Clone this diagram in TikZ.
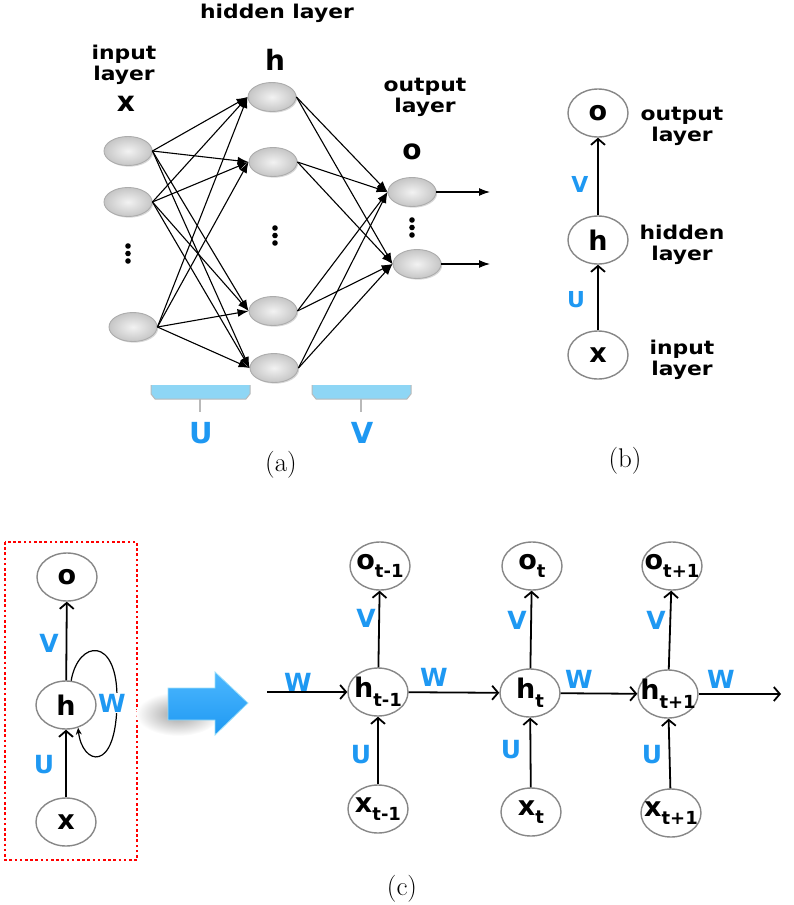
\documentclass[tikz,border=0pt]{standalone}
\usepackage{fontspec}
\usetikzlibrary{arrows.meta,shapes.geometric,shadows,calc}
\newfontfamily\djs{DejaVu Sans}[FakeStretch=1.15]
\newfontfamily\djn{DejaVu Sans}
\definecolor{myblue}{RGB}{30,152,242}
\definecolor{brk}{RGB}{142,214,245}
\definecolor{cgray}{RGB}{135,135,135}
\newcommand\subx[1]{\raisebox{-0.32em}{\fontsize{18}{18}\selectfont #1}}
\newcommand\ctext[1]{\makebox[0pt]{#1}}
\begin{document}
\begin{tikzpicture}[x=1pt,y=-1pt,
 lab/.style={font=\djs\bfseries\fontsize{19}{21}\selectfont, align=center, inner sep=0},
 big/.style={font=\djn\bfseries\fontsize{28}{28}\selectfont, inner sep=0},
 bl/.style={text=myblue, font=\djn\bfseries\fontsize{25}{25}\selectfont, inner sep=0},
 blb/.style={text=myblue, font=\djn\bfseries\fontsize{29}{29}\selectfont, inner sep=0},
 bls/.style={text=myblue, font=\djn\bfseries\fontsize{22}{22}\selectfont, inner sep=0},
 circ/.style={ellipse, draw=cgray, line width=1.4pt, fill=white, minimum width=60pt, minimum height=48pt, inner sep=0, font=\djn\bfseries\fontsize{27}{27}\selectfont},
 neu/.style={ellipse, minimum width=48pt, minimum height=29pt, inner sep=0, draw=gray!65, line width=0.9pt, inner color=gray!10, outer color=gray!45, drop shadow={opacity=0.3, shadow xshift=1.2pt, shadow yshift=-1.2pt}},
 narr/.style={-{Latex[length=11pt,width=8pt]}, line width=1.1pt},
 arr/.style={-{Straight Barb[length=6pt,width=14pt]}, line width=1.8pt},
 captxt/.style={font=\fontsize{27}{27}\selectfont, inner sep=0},
 brack/.style={fill=brk, draw=gray!55, line width=1pt}
]
\useasboundingbox (0,0) rectangle (793,905);

% ---------- (a) ----------
\node[neu] (i1) at (128,151) {};
\node[neu] (i2) at (128,202) {};
\node[neu] (i3) at (133,327) {};
\node[neu] (h1) at (272,97) {};
\node[neu] (h2) at (273,162) {};
\node[neu] (h3) at (273,311) {};
\node[neu] (h4) at (274,368) {};
\node[neu] (o1) at (412,192) {};
\node[neu] (o2) at (417,264) {};

\foreach \i in {i1,i2,i3}
  \foreach \h in {h1,h2,h3,h4}
    \draw[narr] (\i.east) -- (\h.west);
\foreach \h in {h1,h2,h3,h4}
  \foreach \o in {o1,o2}
    \draw[narr] (\h.east) -- (\o.west);
\coordinate (e1) at (490,192);
\coordinate (e2) at (490,264);
\draw[narr] (o1.east) -- (e1);
\draw[narr] (o2.east) -- (e2);

\foreach \x/\y in {128/246, 275/228, 412/220}{
  \fill (\x,\y) circle (2.8);
  \fill (\x,\y+7.5) circle (2.8);
  \fill (\x,\y+15) circle (2.8);
}

\node[lab] (thl) at (277,13) {hidden layer};
\node[big] (th) at (275,60) {h};
\node[lab] (til) at (124,65) {input\\layer};
\node[big] (tx) at (126,104) {x};
\node[lab] (tol) at (425,97) {output\\layer};
\node[big] (to) at (412,152) {o};

\path[fill=brk] (151,385) -- (151,394) -- (155,399) -- (246,399) -- (250,394) -- (250,385) -- cycle;
\draw[gray!55, line width=1pt] (151,385) -- (151,394) -- (155,399) -- (246,399) -- (250,394) -- (250,385);
\draw[gray!55, line width=1.2pt] (200,399) -- (200,412);
\path[fill=brk] (312,385) -- (312,394) -- (316,399) -- (407,399) -- (411,394) -- (411,385) -- cycle;
\draw[gray!55, line width=1pt] (312,385) -- (312,394) -- (316,399) -- (407,399) -- (411,394) -- (411,385);
\draw[gray!55, line width=1.2pt] (361,399) -- (361,412);
\node[blb] (lu) at (201,433) {U};
\node[blb] (lv) at (362,433) {V};

\node[captxt] (ca) at (281,465) {(a)};

% ---------- (b) ----------
\node[circ] (bo) at (598,113) {o};
\node[circ] (bh) at (598,240) {h};
\node[circ] (bx) at (598,355) {x};
\draw[arr] (bx) -- (bh);
\draw[arr] (bh) -- (bo);
\node[lab] (bol) at (682,126) {output\\layer};
\node[lab] (bhl) at (682,245) {hidden\\layer};
\node[lab] (bil) at (682,360) {input\\layer};
\node[bls] (bv) at (580,184) {V};
\node[bls] (bu) at (576,300) {U};
\node[captxt] (cb) at (625,461) {(b)};

% ---------- (c) left ----------
\draw[red, line width=2.6pt, dash pattern=on 2.6pt off 2.6pt] (5,542) rectangle (137,860);
\node[circ] (lo) at (67,577) {o};
\node[circ] (lh) at (66,705) {h};
\node[circ] (lx) at (66,822) {x};
\draw[arr] (lx) -- (lh);
\draw[arr] (lh) -- (lo);
\draw[line width=1.2pt, -{Stealth[length=7pt,width=6pt]}] (lh.78) .. controls (78,640) and (118,635) .. (117,700) .. controls (117,775) and (82,765) .. (lh.-62);
\node[bl, fill=white, inner sep=1pt] (lw) at (112,703) {W};
\node[bl] (lv2) at (49,643) {V};
\node[bl] (lu2) at (44,765) {U};

% shadow + big arrow
\shade[inner color=gray!75, outer color=white] (178,714) ellipse [x radius=42, y radius=22];
\shade[top color=cyan!60!blue!70, bottom color=myblue, draw=cyan!40, line width=0.8pt]
  (168,688) -- (215,688) -- (215,672) -- (248,703) -- (215,735) -- (215,720) -- (168,720) -- cycle;

% ---------- (c) right ----------
\node[circ] (o1t) at (380,566) {\ctext{o\subx{t-1}}};
\node[circ] (h1t) at (378,692) {\ctext{h\subx{t-1}}};
\node[circ] (x1t) at (378,809) {\ctext{x\subx{t-1}}};
\node[circ] (o2t) at (532,566) {\ctext{o\subx{t}}};
\node[circ] (h2t) at (530,693) {\ctext{h\subx{t}}};
\node[circ] (x2t) at (531,812) {\ctext{x\subx{t}}};
\node[circ] (o3t) at (672,566) {\ctext{o\subx{t+1}}};
\node[circ] (h3t) at (668,694) {\ctext{h\subx{t+1}}};
\node[circ] (x3t) at (671,813) {\ctext{x\subx{t+1}}};

\foreach \n in {1,2,3}{
  \draw[arr] (x\n t) -- (h\n t);
  \draw[arr] (h\n t) -- (o\n t);
}
\coordinate (win) at (267,692);
\coordinate (wout) at (781,694);
\draw[arr] (win) -- (h1t);
\draw[arr] (h1t) -- (h2t);
\draw[arr] (h2t) -- (h3t);
\draw[arr] (h3t) -- (wout);

\node[bl] (w0) at (298,682) {W};
\node[bl] (w1) at (434,677) {W};
\node[bl] (w2) at (579,679) {W};
\node[bl] (w3) at (721,679) {W};
\node[bl] (v1) at (366,618) {V};
\node[bl] (v2) at (517,620) {V};
\node[bl] (v3) at (656,620) {V};
\node[bl] (u1) at (361,755) {U};
\node[bl] (u2) at (511,750) {U};
\node[bl] (u3) at (652,755) {U};

\node[captxt] (cc) at (402,889) {(c)};
\end{tikzpicture}
\end{document}
